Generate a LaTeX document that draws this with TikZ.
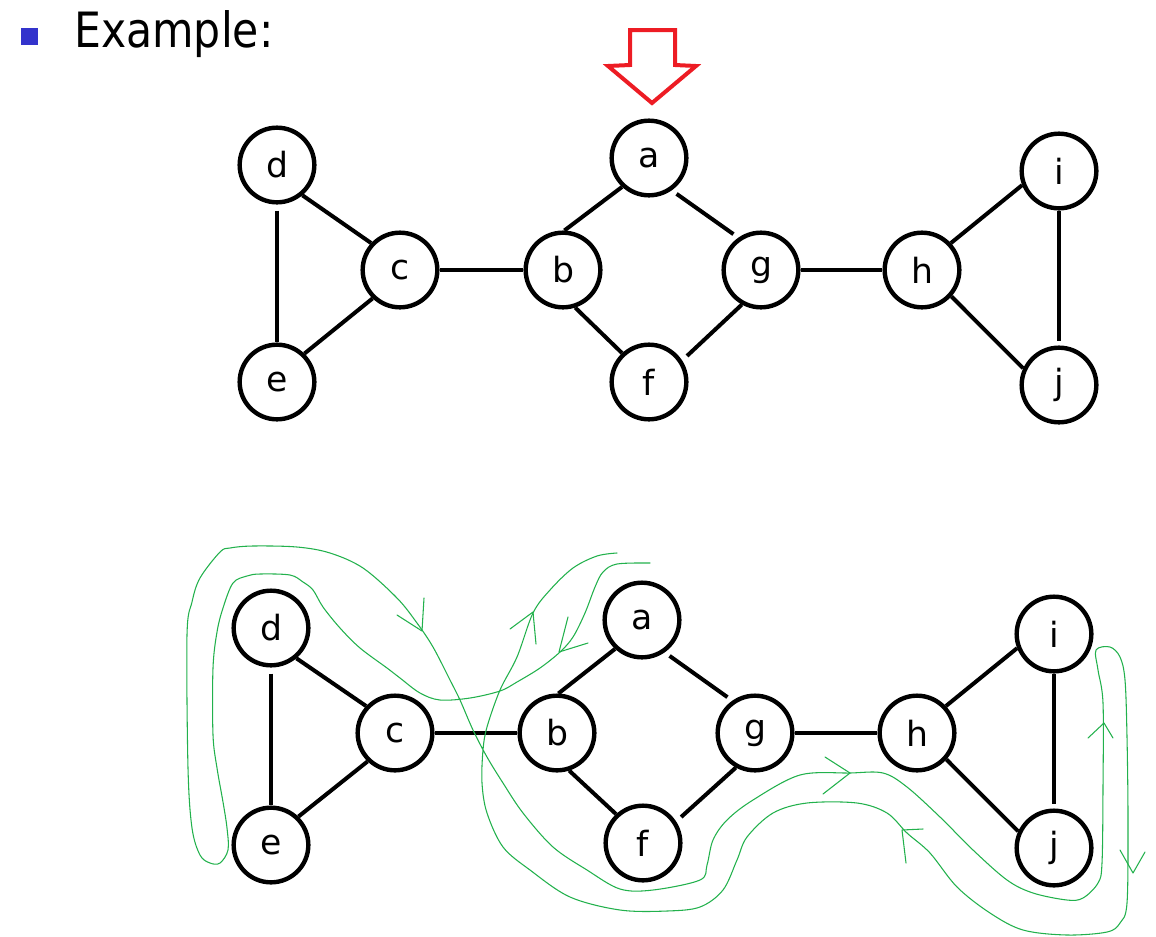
\documentclass[tikz,border=0pt]{standalone}
\usepackage{fontspec}
\setmainfont{DejaVu Sans}
\newfontfamily\titlefont[FakeStretch=0.875]{DejaVu Sans}
\definecolor{bulletblue}{HTML}{3333CC}
\definecolor{arrowred}{HTML}{ED1C24}
\definecolor{pengreen}{HTML}{22B14C}
\tikzset{
  vtx/.style={circle, draw, line width=3.3pt, minimum size=56pt, inner sep=0pt,
              font=\fontsize{26}{26}\selectfont},
  gedge/.style={line width=3pt},
  pen/.style={draw=pengreen, line width=0.8pt, line join=round, line cap=round},
  redarrow/.style={draw=arrowred, line width=3pt, line join=miter},
}
\begin{document}
\begin{tikzpicture}[x=0.75pt,y=-0.75pt]
\path[use as bounding box] (0,0) rectangle (1156,936);

% title
\node[fill=bulletblue, minimum size=12.75pt, inner sep=0pt] (bullet) at (29.5,36.5) {};
\node[anchor=base west, inner sep=0pt, font=\titlefont\fontsize{36.5}{36.5}\selectfont] (title) at (74,47) {Example:};

% red arrow
\draw[redarrow] (630,30) -- (675,30) -- (675,65) -- (696,66) -- (652,103) -- (608,66) -- (630,65) -- cycle;

% top graph
\node[vtx] (d) at (277,165) {d};
\node[vtx] (c) at (400,270) {c};
\node[vtx] (e) at (277,382) {e};
\node[vtx] (b) at (563,270) {b};
\node[vtx] (a) at (649,158) {a};
\node[vtx] (f) at (649,382) {f};
\node[vtx] (g) at (761,270) {g};
\node[vtx] (h) at (922,270) {h};
\node[vtx] (i) at (1059,171) {i};
\node[vtx] (j) at (1059,385) {j};

% bottom graph
\node[vtx] (d2) at (271,628) {d};
\node[vtx] (c2) at (395,733) {c};
\node[vtx] (e2) at (271,845) {e};
\node[vtx] (b2) at (557,733) {b};
\node[vtx] (a2) at (642,620) {a};
\node[vtx] (f2) at (643,843) {f};
\node[vtx] (g2) at (755,733) {g};
\node[vtx] (h2) at (917,733) {h};
\node[vtx] (i2) at (1054,634) {i};
\node[vtx] (j2) at (1054,848) {j};

\foreach \s in {,2}{
  \draw[gedge] (d\s.-50) -- (c\s.137);
  \draw[gedge, shorten <=4.5pt] (d\s.south) -- (e\s.north);
  \draw[gedge] (c\s.-134) -- (e\s.46);
  \draw[gedge] (c\s.east) -- (b\s.west);
  \draw[gedge] (b\s.88) -- (a\s.-133);
  \draw[gedge] (b\s.-72) -- (f\s.133);
  \draw[gedge, shorten <=4.5pt, shorten >=4.5pt] (a\s.-55) -- (g\s.125);
  \draw[gedge, shorten <=5pt] (f\s.33) -- (g\s.-119);
  \draw[gedge] (g\s.east) -- (h\s.west);
  \draw[gedge] (h\s.43) -- (i\s.-159);
  \draw[gedge] (h\s.-42) -- (j\s.155);
  \draw[gedge, shorten >=3.5pt] (i\s.south) -- (j\s.north);
}

% green hand-drawn traversal
\draw[pen] plot[smooth, tension=0.55] coordinates {
(650,563) (617,564) (603,572) (595,587) (585,613) (573,637) (560,652) (540,668)
(517,682) (500,691) (470,698) (440,700) (420,693) (400,678) (387,668) (360,648)
(340,628) (323,607) (313,590) (303,582) (290,575) (260,574) (247,576) (233,583)
(223,608) (217,632) (213,668) (213,735) (217,768) (223,802) (227,828) (228,850)
(220,863) (210,863) (200,855) (192,828) (188,768) (187,635) (192,602) (200,578)
(220,552) (230,548) (253,546) (297,547) (330,553) (363,568) (397,598) (417,623)
(433,647) (450,680) (460,700) (473,730) (487,757) (503,783) (523,813) (553,847)
(587,870) (620,889) (653,890) (700,880) (707,865) (713,840) (727,820) (753,800)
(800,775) (850,773) (883,773) (907,787) (940,817) (973,850) (1007,880) (1033,893)
(1067,900) (1083,898) (1098,883) (1102,863) (1103,787) (1103,703) (1098,670)
(1096,650) (1110,647) (1120,657) (1125,680) (1127,737) (1128,820) (1127,903)
(1120,923) (1107,932) (1067,935) (1023,930) (990,913) (957,887) (930,853)
(907,833) (887,813) (857,803) (807,803) (773,813) (747,837) (737,860) (723,890)
(700,907) (667,911) (620,910) (570,897) (530,870) (503,847) (487,813) (482,783)
(483,750) (487,727) (500,690) (517,657) (533,613) (550,590) (573,568) (597,556)
(617,553)};

% arrow barbs
\draw[pen] (397,615) -- (422,631) -- (424,598);
\draw[pen] (510,629) -- (533,612) -- (536,644);
\draw[pen] (568,617) -- (559,652) -- (588,643);
\draw[pen] (825,757) -- (850,773) -- (823,794);
\draw[pen] (923,829) -- (902,830) -- (906,863);
\draw[pen] (1088,738) -- (1104,723) -- (1113,738);
\draw[pen] (1120,850) -- (1133,873) -- (1145,852);
\end{tikzpicture}
\end{document}
